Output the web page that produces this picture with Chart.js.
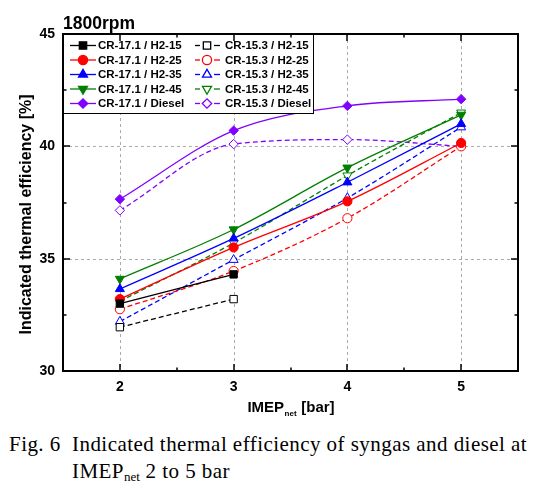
<!DOCTYPE html>
<html>
<head>
<meta charset="utf-8">
<script src="https://cdn.jsdelivr.net/npm/chart.js@4.4.0/dist/chart.umd.min.js"></script>
<style>
  body { margin: 0; background: #fff; }
  #wrap { position: relative; width: 538px; height: 490px; }
  #box { position: absolute; left: 0; top: 0; width: 538px; height: 420px; }
  .cap { position: absolute; font-family: "Liberation Serif", serif; font-size: 21px; line-height: 24px; color: #000; white-space: nowrap; letter-spacing: 0.45px; }
  .cap sub { font-size: 13px; vertical-align: -3px; letter-spacing: 0; }
</style>
</head>
<body>
<div id="wrap">
  <div id="box"><canvas id="chart"></canvas></div>
  <div class="cap" style="left:9px; top:432px;">Fig. 6</div>
  <div class="cap" style="left:72px; top:432px;">Indicated thermal efficiency of syngas and diesel at</div>
  <div class="cap" style="left:72px; top:459px;">IMEP<sub>net</sub> 2 to 5 bar</div>
</div>
<script>
document.addEventListener("DOMContentLoaded", function () {
    const imep = [2, 3, 4, 5];
    const xTicks = [2, 3, 4, 5];
    const yTicks = [30, 35, 40, 45];

    // CR-17.1 (solid lines, filled symbols)
    const cr17_h2_15 = [33.0, 34.3];
    const cr17_h2_25 = [33.2, 35.5, 37.55, 40.15];
    const cr17_h2_35 = [33.65, 35.9, 38.4, 41.0];
    const cr17_h2_45 = [34.1, 36.3, 39.05, 41.4];
    const cr17_diesel = [37.65, 40.7, 41.8, 42.1];

    // CR-15.3 (dashed lines, open symbols)
    const cr15_h2_15 = [31.95, 33.2];
    const cr15_h2_25 = [32.75, 34.45, 36.8, 40.0];
    const cr15_h2_35 = [32.2, 34.95, 37.7, 40.85];
    const cr15_h2_45 = [33.1, 35.7, 38.7, 41.5];
    const cr15_diesel = [37.15, 40.1, 40.3, 40.0];

    const FONT = "'Liberation Sans', Arial, sans-serif";
    const sizes = { rect: 5.2, circle: 4.6, triangle: 5.2, rectRot: 4.7 };

    function pts(vals) {
        return vals.map((v, i) => ({ x: imep[i], y: v }));
    }

    function series(label, vals, color, style, rot, open) {
        return {
            label: label,
            data: pts(vals),
            borderColor: color,
            backgroundColor: color,
            borderWidth: 1.3,
            borderDash: open ? [5, 3] : [],
            cubicInterpolationMode: 'monotone',
            pointStyle: style,
            rotation: rot,
            pointRadius: sizes[style],
            pointBorderWidth: 1,
            pointBorderColor: color,
            pointBackgroundColor: open ? '#fff' : color,
            open: open
        };
    }

    // interleaved so that the legend reads row by row
    const datasets = [
        series('CR-17.1 / H2-15', cr17_h2_15, '#000000', 'rect', 0, false),
        series('CR-15.3 / H2-15', cr15_h2_15, '#000000', 'rect', 0, true),
        series('CR-17.1 / H2-25', cr17_h2_25, '#ff0000', 'circle', 0, false),
        series('CR-15.3 / H2-25', cr15_h2_25, '#ff0000', 'circle', 0, true),
        series('CR-17.1 / H2-35', cr17_h2_35, '#0000ff', 'triangle', 0, false),
        series('CR-15.3 / H2-35', cr15_h2_35, '#0000ff', 'triangle', 0, true),
        series('CR-17.1 / H2-45', cr17_h2_45, '#007f00', 'triangle', 180, false),
        series('CR-15.3 / H2-45', cr15_h2_45, '#007f00', 'triangle', 180, true),
        series('CR-17.1 / Diesel', cr17_diesel, '#8000ff', 'rectRot', 0, false),
        series('CR-15.3 / Diesel', cr15_diesel, '#8000ff', 'rectRot', 0, true)
    ];

    function seg(ctx, x1, y1, x2, y2) {
        ctx.beginPath();
        ctx.moveTo(x1, y1);
        ctx.lineTo(x2, y2);
        ctx.stroke();
    }

    const frame = {
        id: 'frame',
        beforeDatasetsDraw(chart) {
            const { ctx, chartArea: a, scales: { x, y } } = chart;
            ctx.save();
            ctx.strokeStyle = '#ababab';
            ctx.lineWidth = 1;
            ctx.setLineDash([3, 3]);
            xTicks.forEach(v => {
                const px = Math.round(x.getPixelForValue(v)) + 0.5;
                seg(ctx, px, a.top, px, a.bottom);
            });
            [35, 40].forEach(v => {
                const py = Math.round(y.getPixelForValue(v)) + 0.5;
                seg(ctx, a.left, py, a.right, py);
            });
            ctx.restore();
        },
        afterDatasetsDraw(chart) {
            const { ctx, chartArea: a, scales: { x, y } } = chart;
            ctx.save();

            // legend box
            ctx.fillStyle = '#fff';
            ctx.fillRect(a.left, a.top, 250, 79);
            ctx.strokeStyle = '#000';
            ctx.lineWidth = 1;
            ctx.strokeRect(a.left + 0.5, a.top + 0.5, 250, 79);
            ctx.font = 'bold 11.5px ' + FONT;
            ctx.textBaseline = 'middle';
            ctx.textAlign = 'left';
            chart.data.datasets.forEach((ds, i) => {
                const row = Math.floor(i / 2);
                const col = i % 2;
                const cy = a.top + 11.5 + row * 14.5;
                const x0 = a.left + (col ? 132 : 7);
                ctx.strokeStyle = ds.borderColor;
                ctx.lineWidth = 1.3;
                if (ds.open) {
                    seg(ctx, x0, cy, x0 + 5, cy);
                    seg(ctx, x0 + 19, cy, x0 + 25, cy);
                } else {
                    seg(ctx, x0, cy, x0 + 26, cy);
                }
                ctx.fillStyle = ds.pointBackgroundColor;
                ctx.strokeStyle = ds.borderColor;
                Chart.helpers.drawPoint(ctx, {
                    pointStyle: ds.pointStyle,
                    rotation: ds.rotation,
                    radius: ds.pointRadius,
                    borderWidth: 1
                }, x0 + (col ? 12 : 13), cy);
                ctx.fillStyle = '#000';
                ctx.fillText(ds.label, x0 + (col ? 30 : 28), cy + 0.5);
            });

            // inward ticks
            ctx.strokeStyle = '#000';
            ctx.lineWidth = 1.5;
            [2, 2.5, 3, 3.5, 4, 4.5, 5].forEach(v => {
                const px = Math.round(x.getPixelForValue(v));
                const len = Number.isInteger(v) ? 7 : 3.5;
                seg(ctx, px, a.bottom, px, a.bottom - len);
                seg(ctx, px, a.top, px, a.top + len);
            });
            [32.5, 35, 37.5, 40, 42.5].forEach(v => {
                const py = Math.round(y.getPixelForValue(v));
                const len = v % 5 === 0 ? 7 : 3.5;
                seg(ctx, a.left, py, a.left + len, py);
                seg(ctx, a.right, py, a.right - len, py);
            });

            // frame
            ctx.lineWidth = 2;
            ctx.strokeRect(a.left, a.top, a.right - a.left, a.bottom - a.top);

            // titles
            ctx.fillStyle = '#000';
            ctx.textBaseline = 'alphabetic';
            ctx.font = 'bold 17.5px ' + FONT;
            ctx.fillText('1800rpm', a.left, 28.5);

            ctx.save();
            ctx.translate(31, (a.top + a.bottom) / 2 + 12);
            ctx.rotate(-Math.PI / 2);
            ctx.textAlign = 'center';
            ctx.font = 'bold 16px ' + FONT;
            ctx.fillText('Indicated thermal efficiency [%]', 0, 0);
            ctx.restore();

            ctx.textAlign = 'left';
            ctx.font = 'bold 15px ' + FONT;
            const w1 = ctx.measureText('IMEP').width;
            const w3 = ctx.measureText(' [bar]').width;
            ctx.font = 'bold 8px ' + FONT;
            const w2 = ctx.measureText('net').width;
            let tx = (a.left + a.right) / 2 - (w1 + w2 + w3) / 2;
            ctx.font = 'bold 15px ' + FONT;
            ctx.fillText('IMEP', tx, 412);
            ctx.font = 'bold 8px ' + FONT;
            ctx.fillText('net', tx + w1 + 0.5, 416);
            ctx.font = 'bold 15px ' + FONT;
            ctx.fillText(' [bar]', tx + w1 + w2 + 1, 412);

            ctx.restore();
        }
    };

    const ctx = document.getElementById("chart").getContext("2d");

    new Chart(ctx, {
        type: 'line',
        data: { datasets: datasets },
        options: {
            devicePixelRatio: 1,
            responsive: true,
            maintainAspectRatio: false,
            animation: false,
            layout: { padding: { left: 0, top: 34, right: 20, bottom: 0 } },
            plugins: {
                legend: { display: false },
                tooltip: { enabled: false }
            },
            scales: {
                x: {
                    type: 'linear',
                    min: 1.5,
                    max: 5.5,
                    afterBuildTicks: s => { s.ticks = xTicks.map(v => ({ value: v })); },
                    afterFit: s => { s.height = 49; },
                    grid: { display: false, drawTicks: false },
                    border: { display: false },
                    ticks: {
                        padding: 8,
                        color: '#000',
                        font: { family: FONT, size: 14, weight: 'bold' }
                    }
                },
                y: {
                    min: 30,
                    max: 45,
                    afterBuildTicks: s => { s.ticks = yTicks.map(v => ({ value: v })); },
                    afterFit: s => { s.width = 63; },
                    grid: { display: false, drawTicks: false },
                    border: { display: false },
                    ticks: {
                        padding: 8,
                        color: '#000',
                        font: { family: FONT, size: 14, weight: 'bold' }
                    }
                }
            }
        },
        plugins: [frame]
    });
});
</script>
</body>
</html>
